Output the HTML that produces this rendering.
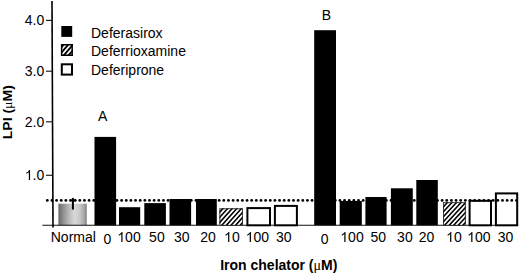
<!DOCTYPE html>
<html><head><meta charset="utf-8"><style>
html,body{margin:0;padding:0;background:#fff;width:520px;height:274px;overflow:hidden;font-family:"Liberation Sans",sans-serif}
svg{display:block}
</style></head><body><svg width="520" height="274" viewBox="0 0 520 274" font-family="Liberation Sans, sans-serif"><defs>
<linearGradient id="cyl" x1="0" x2="1" y1="0" y2="0">
<stop offset="0" stop-color="#666"/>
<stop offset="0.16" stop-color="#8e8e8e"/>
<stop offset="0.39" stop-color="#bcbcbc"/>
<stop offset="0.57" stop-color="#d8d8d8"/>
<stop offset="0.75" stop-color="#c8c8c8"/>
<stop offset="0.89" stop-color="#aaa"/>
<stop offset="1" stop-color="#868686"/>
</linearGradient><clipPath id="c1"><rect x="219.40" y="208.30" width="23.50" height="17.00"/></clipPath><clipPath id="c2"><rect x="443.10" y="202.20" width="22.70" height="23.10"/></clipPath><clipPath id="c3"><rect x="60.90" y="44.00" width="12.00" height="12.00"/></clipPath></defs><rect x="0" y="0" width="520" height="274" fill="#fff"/><rect x="58.4" y="203.7" width="28.4" height="21.60" fill="url(#cyl)"/><rect x="94.5" y="136.9" width="21.60" height="88.40" fill="#000"/><rect x="119.0" y="207.2" width="21.20" height="18.10" fill="#000"/><rect x="144.3" y="203.1" width="21.60" height="22.20" fill="#000"/><rect x="169.5" y="199.0" width="21.60" height="26.30" fill="#000"/><rect x="196.0" y="199.0" width="20.80" height="26.30" fill="#000"/><rect x="314.2" y="30.2" width="21.80" height="195.10" fill="#000"/><rect x="339.7" y="201.0" width="22.10" height="24.30" fill="#000"/><rect x="365.4" y="197.0" width="21.20" height="28.30" fill="#000"/><rect x="390.9" y="188.3" width="21.90" height="37.00" fill="#000"/><rect x="416.3" y="180.0" width="21.50" height="45.30" fill="#000"/><line x1="42.3" y1="225.3" x2="518.2" y2="225.3" stroke="#111" stroke-width="1.05"/><rect x="219.4" y="208.3" width="23.50" height="17.00" fill="#fff"/><path clip-path="url(#c1)" d="M197.90 226.30L214.90 207.30M202.50 226.30L219.50 207.30M207.10 226.30L224.10 207.30M211.70 226.30L228.70 207.30M216.30 226.30L233.30 207.30M220.90 226.30L237.90 207.30M225.50 226.30L242.50 207.30M230.10 226.30L247.10 207.30M234.70 226.30L251.70 207.30M239.30 226.30L256.30 207.30M243.90 226.30L260.90 207.30" stroke="#000" stroke-width="1.55" fill="none"/><rect x="219.90" y="208.80" width="22.50" height="16.50" fill="none" stroke="#222" stroke-width="0.9"/><rect x="247.40" y="208.10" width="22.60" height="17.20" fill="#fff" stroke="#000" stroke-width="2"/><rect x="274.90" y="205.90" width="22.00" height="19.40" fill="#fff" stroke="#000" stroke-width="2"/><rect x="443.1" y="202.2" width="22.70" height="23.10" fill="#fff"/><path clip-path="url(#c2)" d="M416.40 226.30L439.50 201.20M420.95 226.30L444.05 201.20M425.50 226.30L448.60 201.20M430.05 226.30L453.15 201.20M434.60 226.30L457.70 201.20M439.15 226.30L462.25 201.20M443.70 226.30L466.80 201.20M448.25 226.30L471.35 201.20M452.80 226.30L475.90 201.20M457.35 226.30L480.45 201.20M461.90 226.30L485.00 201.20M466.45 226.30L489.55 201.20M471.00 226.30L494.10 201.20" stroke="#000" stroke-width="1.55" fill="none"/><rect x="443.60" y="202.70" width="21.70" height="22.60" fill="none" stroke="#222" stroke-width="0.9"/><rect x="469.60" y="200.80" width="21.40" height="24.50" fill="#fff" stroke="#000" stroke-width="2"/><rect x="495.90" y="193.40" width="21.30" height="31.90" fill="#fff" stroke="#000" stroke-width="2"/><g fill="#000"><circle cx="47.30" cy="200.4" r="1.4"/><circle cx="51.94" cy="200.4" r="1.4"/><circle cx="56.59" cy="200.4" r="1.4"/><circle cx="61.23" cy="200.4" r="1.4"/><circle cx="65.88" cy="200.4" r="1.4"/><circle cx="70.52" cy="200.4" r="1.4"/><circle cx="75.17" cy="200.4" r="1.4"/><circle cx="79.81" cy="200.4" r="1.4"/><circle cx="84.46" cy="200.4" r="1.4"/><circle cx="89.10" cy="200.4" r="1.4"/><circle cx="93.75" cy="200.4" r="1.4"/><circle cx="98.39" cy="200.4" r="1.4"/><circle cx="103.04" cy="200.4" r="1.4"/><circle cx="107.68" cy="200.4" r="1.4"/><circle cx="112.33" cy="200.4" r="1.4"/><circle cx="116.97" cy="200.4" r="1.4"/><circle cx="121.62" cy="200.4" r="1.4"/><circle cx="126.26" cy="200.4" r="1.4"/><circle cx="130.91" cy="200.4" r="1.4"/><circle cx="135.55" cy="200.4" r="1.4"/><circle cx="140.20" cy="200.4" r="1.4"/><circle cx="144.84" cy="200.4" r="1.4"/><circle cx="149.49" cy="200.4" r="1.4"/><circle cx="154.13" cy="200.4" r="1.4"/><circle cx="158.78" cy="200.4" r="1.4"/><circle cx="163.43" cy="200.4" r="1.4"/><circle cx="168.07" cy="200.4" r="1.4"/><circle cx="172.72" cy="200.4" r="1.4"/><circle cx="177.36" cy="200.4" r="1.4"/><circle cx="182.01" cy="200.4" r="1.4"/><circle cx="186.65" cy="200.4" r="1.4"/><circle cx="191.30" cy="200.4" r="1.4"/><circle cx="195.94" cy="200.4" r="1.4"/><circle cx="200.59" cy="200.4" r="1.4"/><circle cx="205.23" cy="200.4" r="1.4"/><circle cx="209.88" cy="200.4" r="1.4"/><circle cx="214.52" cy="200.4" r="1.4"/><circle cx="219.17" cy="200.4" r="1.4"/><circle cx="223.81" cy="200.4" r="1.4"/><circle cx="228.46" cy="200.4" r="1.4"/><circle cx="233.10" cy="200.4" r="1.4"/><circle cx="237.75" cy="200.4" r="1.4"/><circle cx="242.39" cy="200.4" r="1.4"/><circle cx="247.04" cy="200.4" r="1.4"/><circle cx="251.68" cy="200.4" r="1.4"/><circle cx="256.33" cy="200.4" r="1.4"/><circle cx="260.97" cy="200.4" r="1.4"/><circle cx="265.62" cy="200.4" r="1.4"/><circle cx="270.26" cy="200.4" r="1.4"/><circle cx="274.91" cy="200.4" r="1.4"/><circle cx="279.55" cy="200.4" r="1.4"/><circle cx="284.20" cy="200.4" r="1.4"/><circle cx="288.84" cy="200.4" r="1.4"/><circle cx="293.49" cy="200.4" r="1.4"/><circle cx="298.13" cy="200.4" r="1.4"/><circle cx="302.78" cy="200.4" r="1.4"/><circle cx="307.42" cy="200.4" r="1.4"/><circle cx="312.06" cy="200.4" r="1.4"/><circle cx="316.71" cy="200.4" r="1.4"/><circle cx="321.35" cy="200.4" r="1.4"/><circle cx="326.00" cy="200.4" r="1.4"/><circle cx="330.64" cy="200.4" r="1.4"/><circle cx="335.29" cy="200.4" r="1.4"/><circle cx="339.93" cy="200.4" r="1.4"/><circle cx="344.58" cy="200.4" r="1.4"/><circle cx="349.22" cy="200.4" r="1.4"/><circle cx="353.87" cy="200.4" r="1.4"/><circle cx="358.51" cy="200.4" r="1.4"/><circle cx="363.16" cy="200.4" r="1.4"/><circle cx="367.80" cy="200.4" r="1.4"/><circle cx="372.45" cy="200.4" r="1.4"/><circle cx="377.09" cy="200.4" r="1.4"/><circle cx="381.74" cy="200.4" r="1.4"/><circle cx="386.38" cy="200.4" r="1.4"/><circle cx="391.03" cy="200.4" r="1.4"/><circle cx="395.67" cy="200.4" r="1.4"/><circle cx="400.32" cy="200.4" r="1.4"/><circle cx="404.96" cy="200.4" r="1.4"/><circle cx="409.61" cy="200.4" r="1.4"/><circle cx="414.25" cy="200.4" r="1.4"/><circle cx="418.90" cy="200.4" r="1.4"/><circle cx="423.54" cy="200.4" r="1.4"/><circle cx="428.19" cy="200.4" r="1.4"/><circle cx="432.83" cy="200.4" r="1.4"/><circle cx="437.48" cy="200.4" r="1.4"/><circle cx="442.12" cy="200.4" r="1.4"/><circle cx="446.77" cy="200.4" r="1.4"/><circle cx="451.41" cy="200.4" r="1.4"/><circle cx="456.06" cy="200.4" r="1.4"/><circle cx="460.70" cy="200.4" r="1.4"/><circle cx="465.35" cy="200.4" r="1.4"/><circle cx="469.99" cy="200.4" r="1.4"/><circle cx="474.64" cy="200.4" r="1.4"/><circle cx="479.28" cy="200.4" r="1.4"/><circle cx="483.93" cy="200.4" r="1.4"/><circle cx="488.57" cy="200.4" r="1.4"/><circle cx="493.22" cy="200.4" r="1.4"/><circle cx="497.86" cy="200.4" r="1.4"/><circle cx="502.51" cy="200.4" r="1.4"/><circle cx="507.15" cy="200.4" r="1.4"/><circle cx="511.80" cy="200.4" r="1.4"/><circle cx="516.44" cy="200.4" r="1.4"/></g><line x1="72.9" y1="197.9" x2="72.9" y2="209.5" stroke="#000" stroke-width="2"/><line x1="69.9" y1="200.4" x2="76.2" y2="200.4" stroke="#000" stroke-width="1.7"/><line x1="52.0" y1="0.9" x2="53.0" y2="227.6" stroke="#000" stroke-width="1.6"/><line x1="46.0" y1="20.40" x2="52.5" y2="20.40" stroke="#1a1a1a" stroke-width="1.15"/><text x="24.84" y="25.20" font-size="14">4.0</text><line x1="46.0" y1="71.20" x2="52.5" y2="71.20" stroke="#1a1a1a" stroke-width="1.15"/><text x="24.84" y="76.00" font-size="14">3.0</text><line x1="46.0" y1="121.80" x2="52.5" y2="121.80" stroke="#1a1a1a" stroke-width="1.15"/><text x="24.84" y="126.60" font-size="14">2.0</text><line x1="46.0" y1="175.30" x2="52.5" y2="175.30" stroke="#1a1a1a" stroke-width="1.15"/><path transform="translate(24.84,180.10) scale(14,-14)" d="M0.373 0L0.285 0L0.285 0.560C0.264 0.540 0.236 0.520 0.200 0.499C0.165 0.478 0.133 0.462 0.106 0.452L0.106 0.537C0.155 0.560 0.198 0.588 0.235 0.621C0.272 0.654 0.298 0.686 0.313 0.716L0.373 0.716Z"/><text x="32.62" y="180.10" font-size="14">.0</text><rect x="61.3" y="26" width="10.9" height="10.9" fill="#000"/><rect x="60.9" y="44" width="12" height="12" fill="#fff"/><path clip-path="url(#c3)" d="M43.60 57.00L55.60 43.00M48.30 57.00L60.30 43.00M53.00 57.00L65.00 43.00M57.70 57.00L69.70 43.00M62.40 57.00L74.40 43.00M67.10 57.00L79.10 43.00M71.80 57.00L83.80 43.00M76.50 57.00L88.50 43.00" stroke="#000" stroke-width="1.9" fill="none"/><rect x="61.65" y="44.75" width="10.5" height="10.5" fill="none" stroke="#000" stroke-width="1.5"/><rect x="61.8" y="64.3" width="10.2" height="10.3" fill="#fff" stroke="#000" stroke-width="2"/><text x="91.0" y="38.0" font-size="14">Deferasirox</text><text x="91.0" y="56.4" font-size="14">Deferrioxamine</text><text x="91.0" y="75.0" font-size="14">Deferiprone</text><text x="102.7" y="120.8" text-anchor="middle" font-size="14">A</text><text x="326.5" y="20.1" text-anchor="middle" font-size="14">B</text><text x="73.3" y="241.9" text-anchor="middle" font-size="14">Normal</text><text x="103.51" y="243.70" font-size="14">0</text><path transform="translate(117.32,241.90) scale(14,-14)" d="M0.373 0L0.285 0L0.285 0.560C0.264 0.540 0.236 0.520 0.200 0.499C0.165 0.478 0.133 0.462 0.106 0.452L0.106 0.537C0.155 0.560 0.198 0.588 0.235 0.621C0.272 0.654 0.298 0.686 0.313 0.716L0.373 0.716Z"/><text x="125.11" y="241.90" font-size="14">00</text><text x="149.11" y="241.90" font-size="14">50</text><text x="174.01" y="241.90" font-size="14">30</text><text x="200.21" y="241.90" font-size="14">20</text><path transform="translate(224.11,241.90) scale(14,-14)" d="M0.373 0L0.285 0L0.285 0.560C0.264 0.540 0.236 0.520 0.200 0.499C0.165 0.478 0.133 0.462 0.106 0.452L0.106 0.537C0.155 0.560 0.198 0.588 0.235 0.621C0.272 0.654 0.298 0.686 0.313 0.716L0.373 0.716Z"/><text x="231.90" y="241.90" font-size="14">0</text><path transform="translate(245.72,241.90) scale(14,-14)" d="M0.373 0L0.285 0L0.285 0.560C0.264 0.540 0.236 0.520 0.200 0.499C0.165 0.478 0.133 0.462 0.106 0.452L0.106 0.537C0.155 0.560 0.198 0.588 0.235 0.621C0.272 0.654 0.298 0.686 0.313 0.716L0.373 0.716Z"/><text x="253.51" y="241.90" font-size="14">00</text><text x="276.01" y="241.90" font-size="14">30</text><text x="320.71" y="243.90" font-size="14">0</text><path transform="translate(340.32,241.90) scale(14,-14)" d="M0.373 0L0.285 0L0.285 0.560C0.264 0.540 0.236 0.520 0.200 0.499C0.165 0.478 0.133 0.462 0.106 0.452L0.106 0.537C0.155 0.560 0.198 0.588 0.235 0.621C0.272 0.654 0.298 0.686 0.313 0.716L0.373 0.716Z"/><text x="348.11" y="241.90" font-size="14">00</text><text x="370.41" y="241.90" font-size="14">50</text><text x="397.11" y="241.90" font-size="14">30</text><text x="418.81" y="241.90" font-size="14">20</text><path transform="translate(446.11,241.90) scale(14,-14)" d="M0.373 0L0.285 0L0.285 0.560C0.264 0.540 0.236 0.520 0.200 0.499C0.165 0.478 0.133 0.462 0.106 0.452L0.106 0.537C0.155 0.560 0.198 0.588 0.235 0.621C0.272 0.654 0.298 0.686 0.313 0.716L0.373 0.716Z"/><text x="453.90" y="241.90" font-size="14">0</text><path transform="translate(467.22,241.90) scale(14,-14)" d="M0.373 0L0.285 0L0.285 0.560C0.264 0.540 0.236 0.520 0.200 0.499C0.165 0.478 0.133 0.462 0.106 0.452L0.106 0.537C0.155 0.560 0.198 0.588 0.235 0.621C0.272 0.654 0.298 0.686 0.313 0.716L0.373 0.716Z"/><text x="475.01" y="241.90" font-size="14">00</text><text x="497.71" y="241.90" font-size="14">30</text><text x="220.2" y="269.5" font-size="14" font-weight="bold">Iron chelator (<tspan font-family="Liberation Serif, serif" font-weight="normal">μ</tspan>M)</text><text transform="translate(12.0,139.2) rotate(-90) scale(1,0.94)" font-size="14" font-weight="bold">LPI (<tspan font-family="Liberation Serif, serif" font-weight="normal">μ</tspan>M)</text></svg></body></html>
